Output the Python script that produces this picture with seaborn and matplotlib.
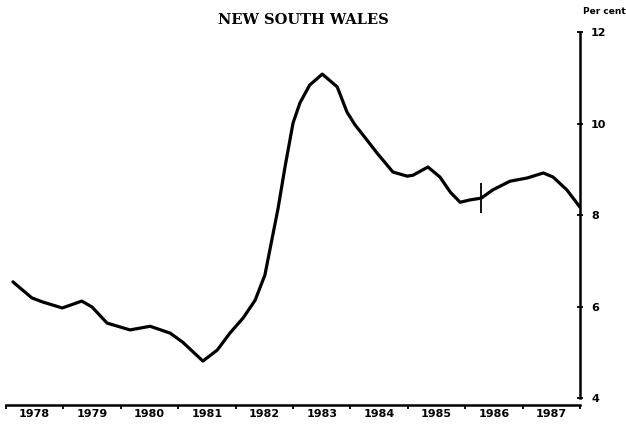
#!/usr/bin/env python3
# -*- coding: utf-8 -*-
"""
New South Wales unemployment rate, per cent
"""

import seaborn as sns
import matplotlib.pyplot as plt
import numpy as np
import pandas as pd


years = [1978.12, 1978.45, 1978.64, 1978.98, 1979.32, 1979.50, 1979.76, 1980.16,
         1980.51, 1980.86, 1981.08, 1981.43, 1981.68, 1981.90, 1982.13, 1982.34,
         1982.51, 1982.74, 1982.86, 1983.00, 1983.12, 1983.29, 1983.51, 1983.77,
         1983.94, 1984.08, 1984.25, 1984.46, 1984.74, 1984.99, 1985.09, 1985.35,
         1985.56, 1985.74, 1985.91, 1986.08, 1986.28, 1986.48, 1986.78, 1987.08,
         1987.36, 1987.53, 1987.77, 1988.00]
rates = [6.54, 6.19, 6.10, 5.97, 6.12, 5.99, 5.64, 5.49,
         5.57, 5.42, 5.22, 4.81, 5.05, 5.42, 5.75, 6.14,
         6.69, 8.15, 9.05, 10.01, 10.45, 10.84, 11.08, 10.80,
         10.25, 9.97, 9.70, 9.36, 8.94, 8.85, 8.87, 9.05,
         8.83, 8.50, 8.28, 8.33, 8.37, 8.55, 8.74, 8.81,
         8.92, 8.83, 8.55, 8.17]

year_labels = ['1978', '1979', '1980', '1981', '1982', '1983', '1984', '1985', '1986', '1987']
y_ticks = [4, 6, 8, 10, 12]

# series break marker
break_year = 1986.28
break_low, break_high = 8.05, 8.70


if __name__ == "__main__":

    sns.set_style("white")
    plt.rcParams['font.family'] = ['DejaVu Sans']
    plt.rcParams['text.color'] = 'black'
    plt.rcParams['xtick.color'] = 'black'
    plt.rcParams['ytick.color'] = 'black'

    data = pd.DataFrame({'year': years, 'rate': rates})

    fig = plt.figure(figsize = (6.26, 4.43), dpi = 100)
    ax = fig.add_axes([0.0096, 0.0858, 0.917, 0.842])

    sns.lineplot(data = data, x = 'year', y = 'rate', color = 'black',
                 linewidth = 2.3, ax = ax, sort = True,
                 solid_joinstyle = 'round', solid_capstyle = 'round')
    ax.vlines(break_year, break_low, break_high, color = 'black', linewidth = 1.3)

    ax.set_xlim(1978, 1988)
    ax.set_ylim(3.85, 12)

    for side in ['top', 'left']:
        ax.spines[side].set_visible(False)
    ax.spines['right'].set_bounds(4, 12)
    ax.spines['right'].set_linewidth(1.8)
    ax.spines['bottom'].set_linewidth(1.8)
    ax.spines['right'].set_color('black')
    ax.spines['bottom'].set_color('black')

    # year ticks at boundaries, labels centred in each year
    ax.set_xticks(np.arange(1978, 1989))
    ax.set_xticklabels([])
    ax.set_xticks(np.arange(1978.5, 1988), minor = True)
    ax.set_xticklabels(year_labels, minor = True, fontsize = 8, fontweight = 'bold')
    ax.tick_params(axis = 'x', which = 'major', direction = 'out', length = 3,
                   width = 1.3, color = 'black', bottom = True)
    ax.tick_params(axis = 'x', which = 'minor', length = 0, pad = 3)

    ax.yaxis.tick_right()
    ax.set_yticks(y_ticks)
    ax.set_yticklabels([str(t) for t in y_ticks], fontsize = 8, fontweight = 'bold')
    ax.tick_params(axis = 'y', direction = 'inout', length = 4, width = 1.3,
                   color = 'black', right = True, pad = 6)

    ax.set_xlabel('')
    ax.set_ylabel('')

    fig.text(0.965, 0.975, 'Per cent', ha = 'center', va = 'center',
             fontsize = 6.5, fontweight = 'bold')
    fig.text(0.485, 0.955, 'NEW SOUTH WALES', ha = 'center', va = 'center',
             fontsize = 10.5, fontweight = 'bold', family = 'DejaVu Serif')

    fig.savefig('out.png', dpi = 100)
